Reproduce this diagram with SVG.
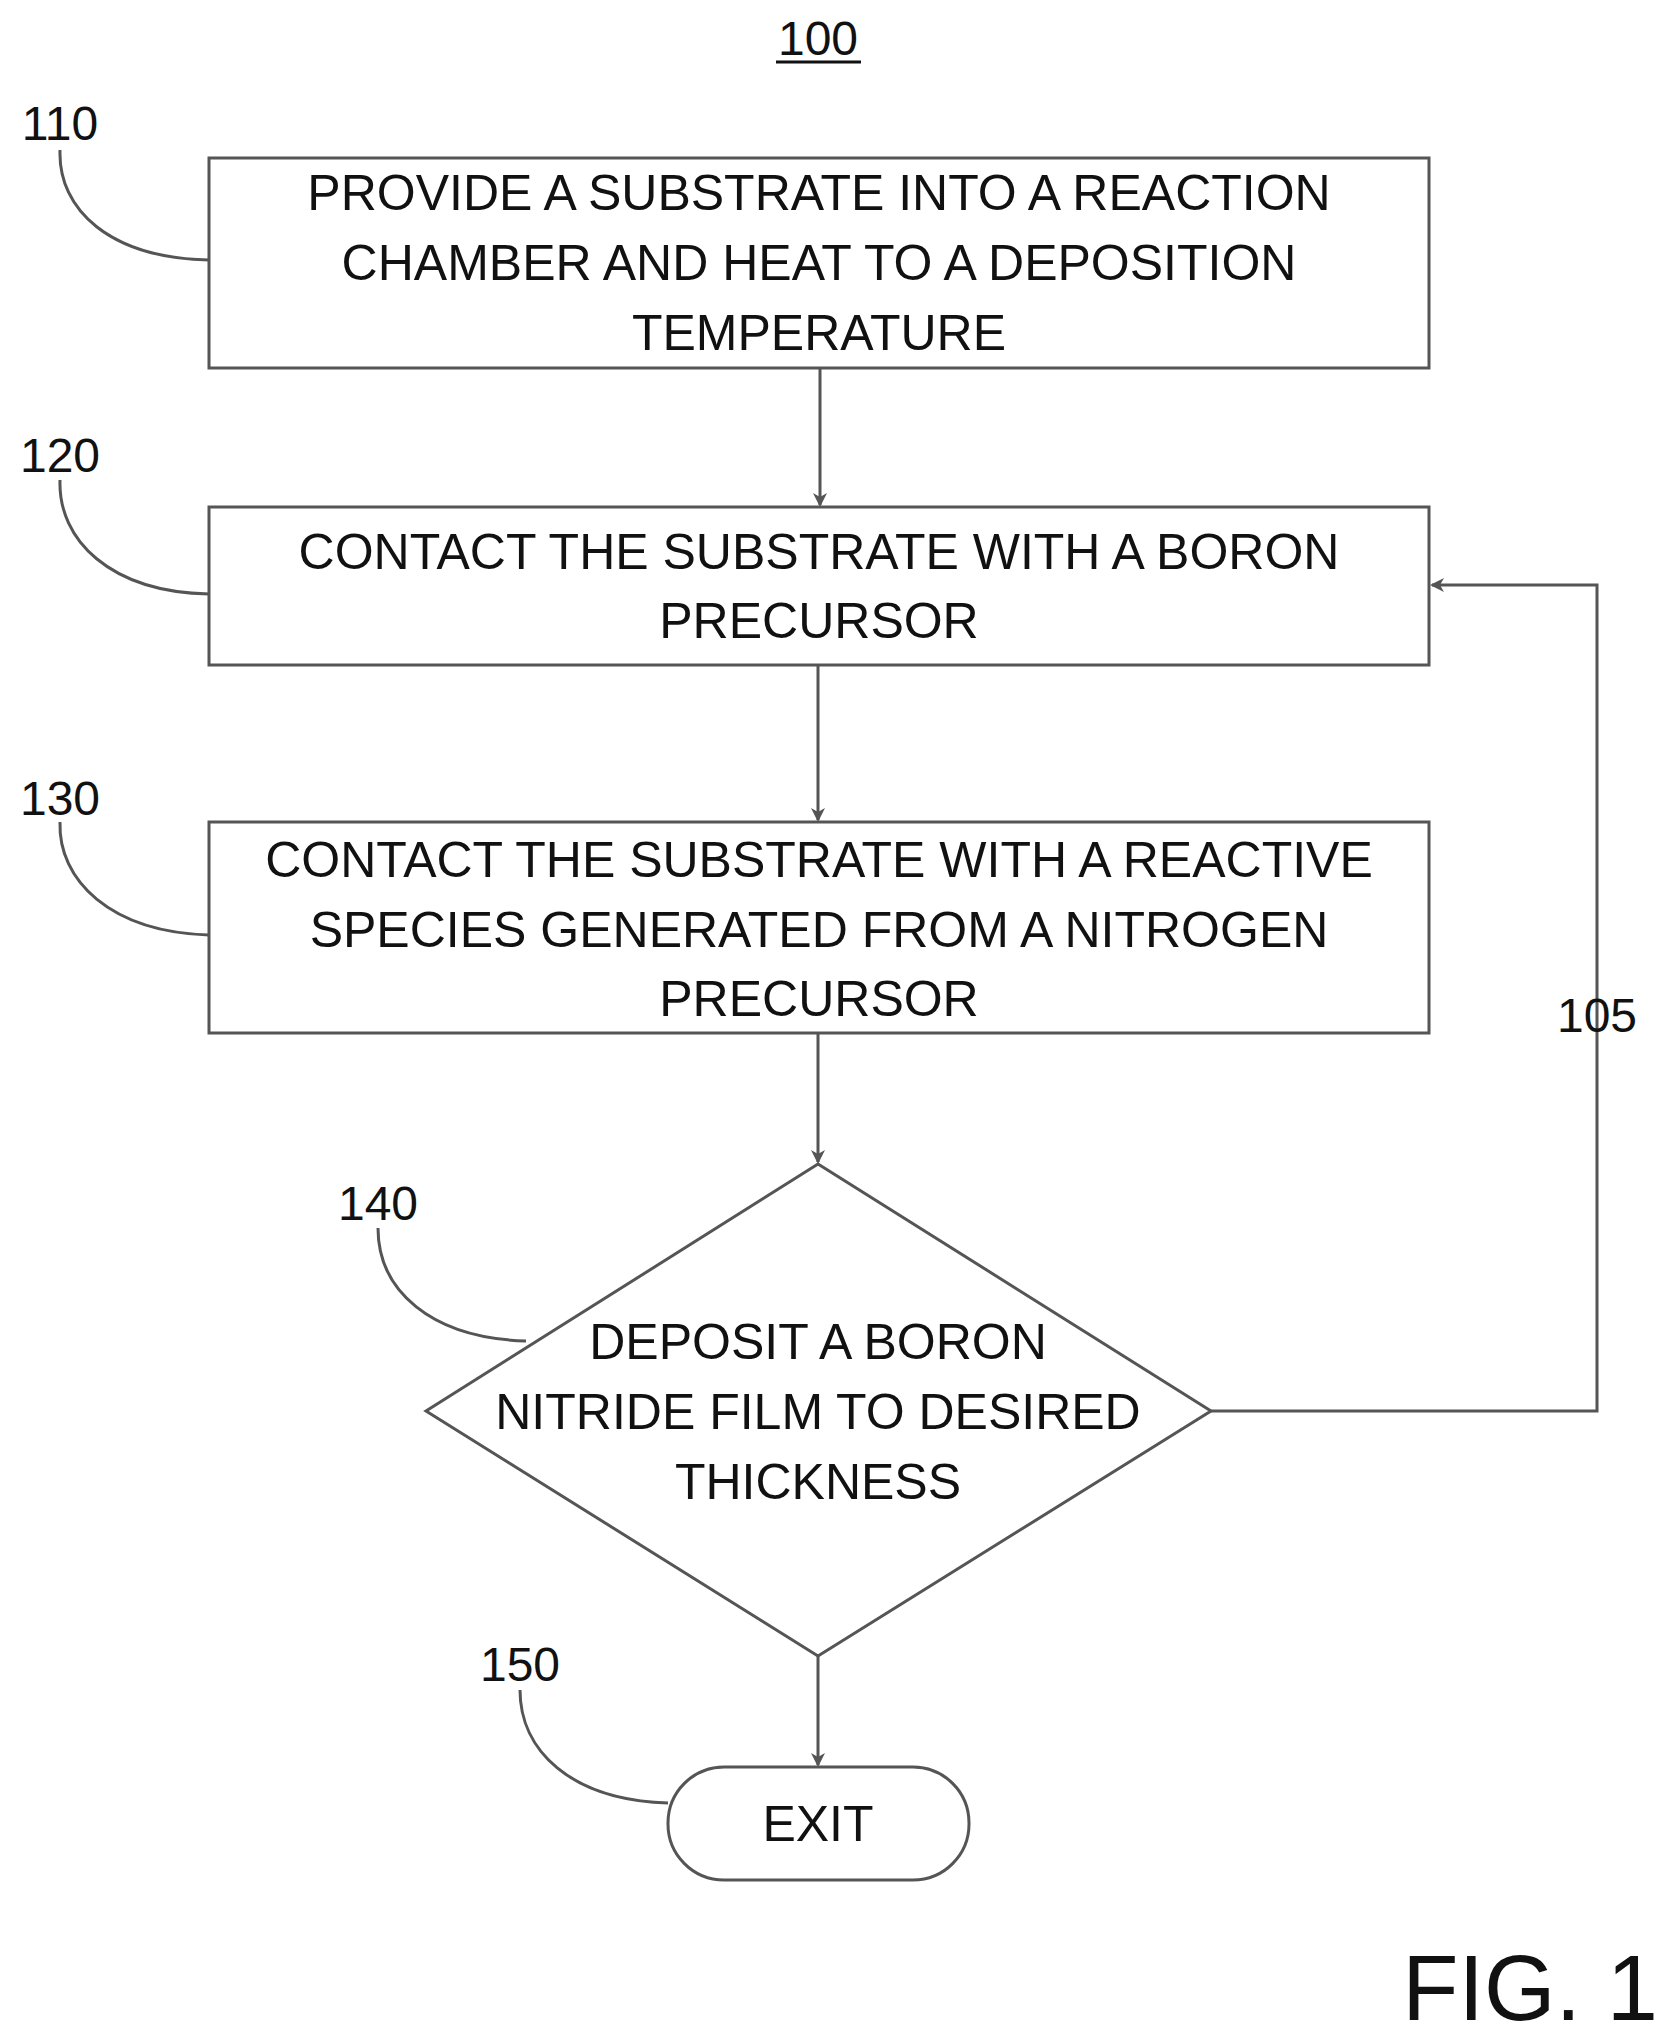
<svg xmlns="http://www.w3.org/2000/svg" width="1663" height="2037" viewBox="0 0 1663 2037">
<style>
text{font-family:"Liberation Sans Narrow","Liberation Sans",Arial,sans-serif;font-size:50px;fill:#111;text-anchor:middle}
.lbl{font-size:48px}
.shape{fill:#fff;stroke:#555;stroke-width:3}
.line{fill:none;stroke:#555;stroke-width:3}
</style>
<defs><marker id="ah" markerWidth="14" markerHeight="14" refX="12" refY="7" orient="auto" markerUnits="userSpaceOnUse"><path d="M0,0 L14,7 L0,14 L4,7 Z" fill="#555"/></marker></defs>
<rect width="1663" height="2037" fill="#fff"/>
<text x="818" y="55" class="lbl">100</text>
<line x1="776" y1="62" x2="861" y2="62" stroke="#111" stroke-width="3"/>
<g id="connectors">
<line class="line" x1="820" y1="368" x2="820" y2="505" marker-end="url(#ah)"/>
<line class="line" x1="818" y1="665" x2="818" y2="820" marker-end="url(#ah)"/>
<line class="line" x1="818" y1="1033" x2="818" y2="1162" marker-end="url(#ah)"/>
<line class="line" x1="818" y1="1656" x2="818" y2="1765" marker-end="url(#ah)"/>
<polyline class="line" points="1211,1411 1597,1411 1597,585 1432,585" marker-end="url(#ah)"/>
<path class="line" d="M60,150 C58,210 110,258 209,260"/>
<path class="line" d="M60,480 C58,540 110,592 209,594"/>
<path class="line" d="M60,822 C58,880 110,932 209,935"/>
<path class="line" d="M378,1228 C378,1290 430,1338 526,1341"/>
<path class="line" d="M520,1690 C520,1750 570,1800 668,1803"/>
</g>
<g id="n110"><text x="60" y="140" class="lbl">110</text>
<rect class="shape" x="209" y="158" width="1220" height="210"/>
<text x="819" y="210">PROVIDE A SUBSTRATE INTO A REACTION</text><text x="819" y="280">CHAMBER AND HEAT TO A DEPOSITION</text><text x="819" y="350">TEMPERATURE</text></g>
<g id="n120"><text x="60" y="472" class="lbl">120</text>
<rect class="shape" x="209" y="507" width="1220" height="158"/>
<text x="819" y="569">CONTACT THE SUBSTRATE WITH A BORON</text><text x="819" y="638">PRECURSOR</text></g>
<g id="n130"><text x="60" y="815" class="lbl">130</text>
<rect class="shape" x="209" y="822" width="1220" height="211"/>
<text x="819" y="877">CONTACT THE SUBSTRATE WITH A REACTIVE</text><text x="819" y="947">SPECIES GENERATED FROM A NITROGEN</text><text x="819" y="1016">PRECURSOR</text></g>
<g id="n140"><text x="378" y="1220" class="lbl">140</text>
<polygon class="shape" points="818,1164 1211,1411 818,1656 426,1411"/>
<text x="818" y="1359">DEPOSIT A BORON</text><text x="818" y="1429">NITRIDE FILM TO DESIRED</text><text x="818" y="1499">THICKNESS</text></g>
<g id="n150"><text x="520" y="1681" class="lbl">150</text>
<rect class="shape" x="668" y="1767" width="301" height="113" rx="56"/>
<text x="818" y="1841">EXIT</text></g>
<text x="1597" y="1032" class="lbl">105</text>
<text x="1530" y="2020" style="font-size:92px">FIG. 1</text>
</svg>
